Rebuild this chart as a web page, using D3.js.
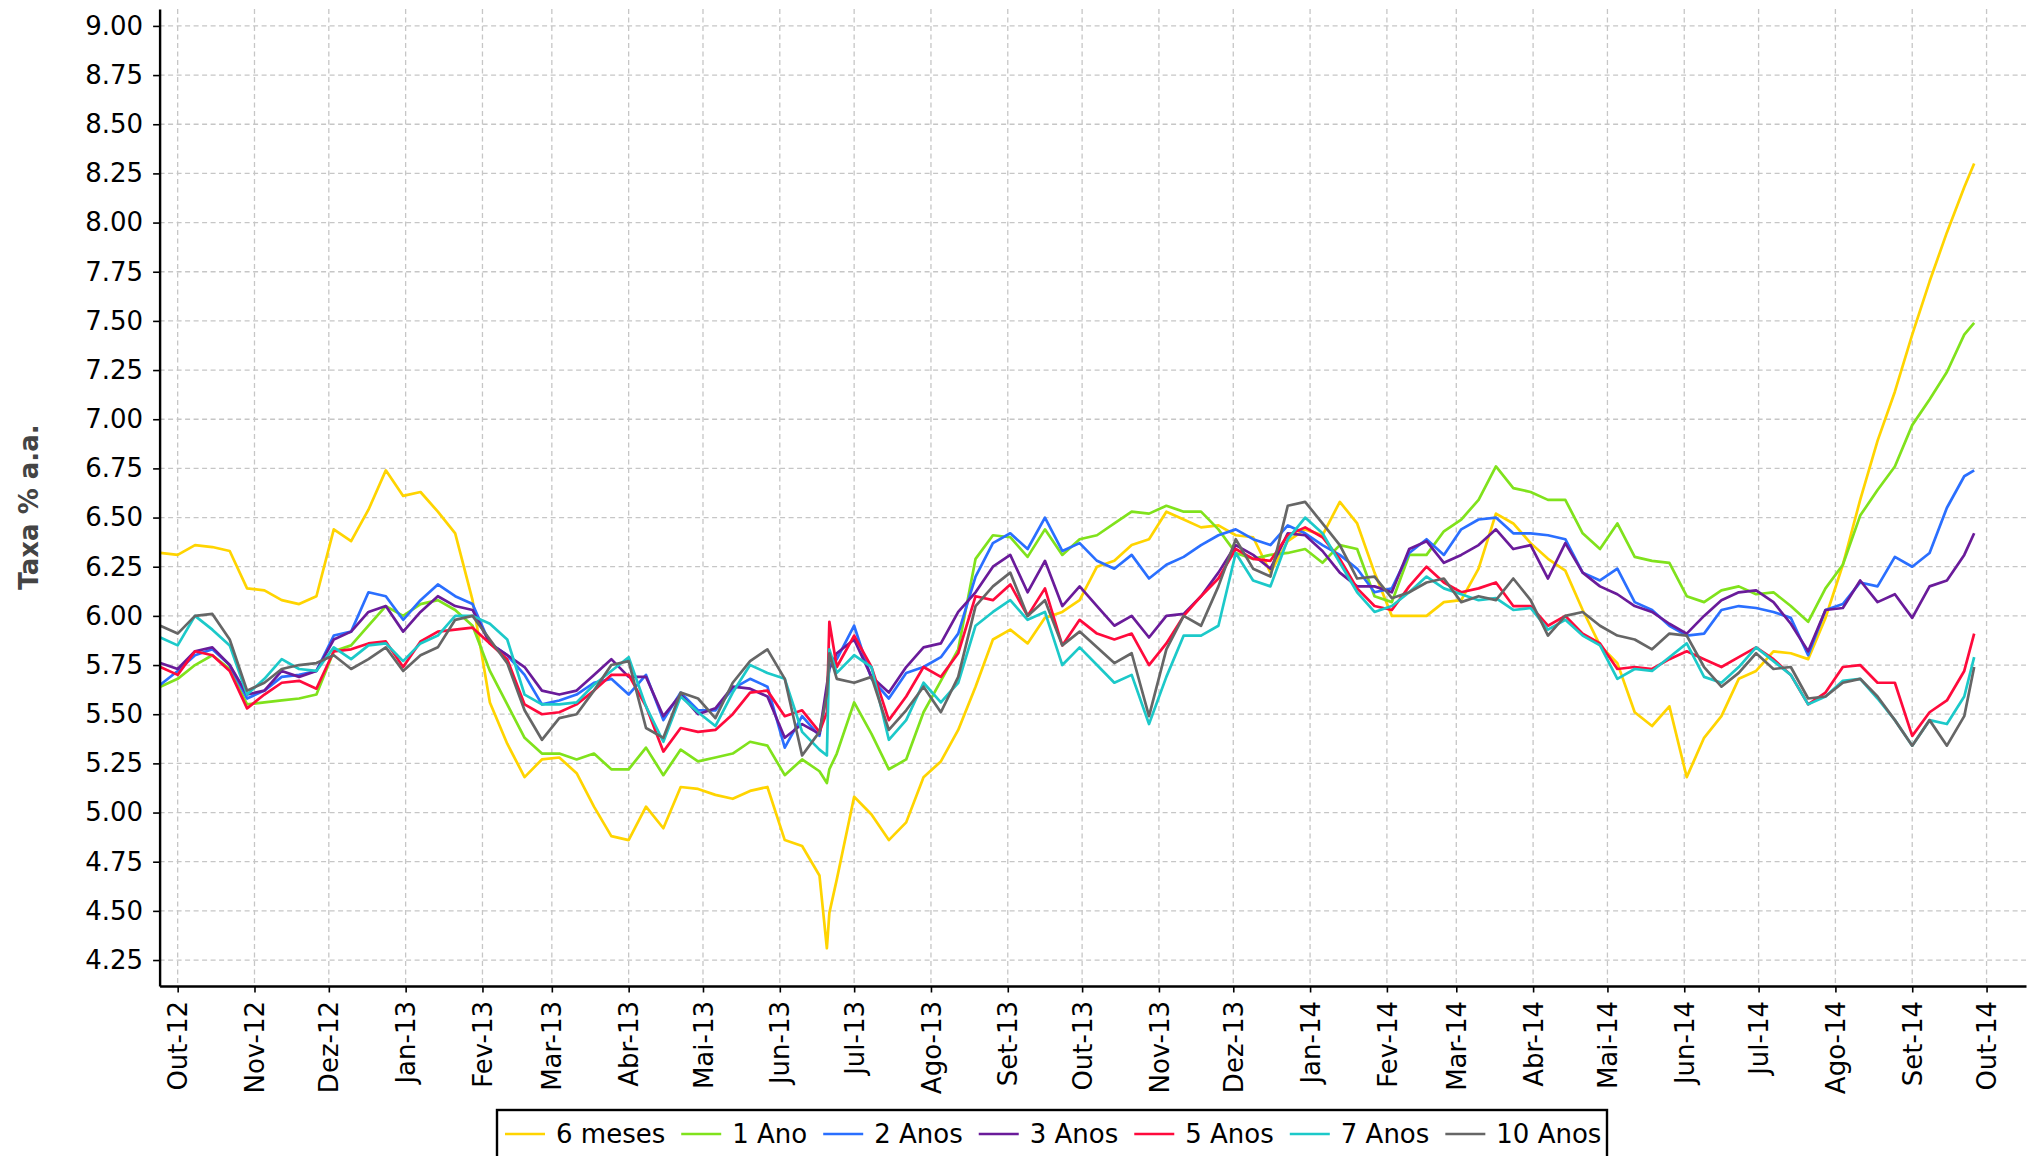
<!DOCTYPE html>
<html>
<head>
<meta charset="utf-8">
<script src="https://cdn.jsdelivr.net/npm/d3@7"></script>
<style>
body { margin: 0; background: #fff; }
svg { display: block; font-family: "DejaVu Sans", sans-serif; }
</style>
</head>
<body>
<script>
// weekly readings (plus two extra days around the June 2013 spike)
let dates = [
  "2012-09-24","2012-10-01","2012-10-08","2012-10-15","2012-10-22","2012-10-29","2012-11-05","2012-11-12","2012-11-19","2012-11-26",
  "2012-12-03","2012-12-10","2012-12-17","2012-12-24","2012-12-31","2013-01-07","2013-01-14","2013-01-21","2013-01-28","2013-02-04",
  "2013-02-11","2013-02-18","2013-02-25","2013-03-04","2013-03-11","2013-03-18","2013-03-25","2013-04-01","2013-04-08","2013-04-15",
  "2013-04-22","2013-04-29","2013-05-06","2013-05-13","2013-05-20","2013-05-27","2013-06-03","2013-06-10","2013-06-17","2013-06-20",
  "2013-06-21","2013-06-24","2013-07-01","2013-07-08","2013-07-15","2013-07-22","2013-07-29","2013-08-05","2013-08-12","2013-08-19",
  "2013-08-26","2013-09-02","2013-09-09","2013-09-16","2013-09-23","2013-09-30","2013-10-07","2013-10-14","2013-10-21","2013-10-28",
  "2013-11-04","2013-11-11","2013-11-18","2013-11-25","2013-12-02","2013-12-09","2013-12-16","2013-12-23","2013-12-30","2014-01-06",
  "2014-01-13","2014-01-20","2014-01-27","2014-02-03","2014-02-10","2014-02-17","2014-02-24","2014-03-03","2014-03-10","2014-03-17",
  "2014-03-24","2014-03-31","2014-04-07","2014-04-14","2014-04-21","2014-04-28","2014-05-05","2014-05-12","2014-05-19","2014-05-26",
  "2014-06-02","2014-06-09","2014-06-16","2014-06-23","2014-06-30","2014-07-07","2014-07-14","2014-07-21","2014-07-28","2014-08-04",
  "2014-08-11","2014-08-18","2014-08-25","2014-09-01","2014-09-08","2014-09-15","2014-09-22","2014-09-26"
];

let taxa6m = [
  6.32,6.31,6.36,6.35,6.33,6.14,6.13,6.08,6.06,6.10,6.44,6.38,6.54,6.74,6.61,6.63,6.53,6.42,6.08,5.56,
  5.35,5.18,5.27,5.28,5.20,5.03,4.88,4.86,5.03,4.92,5.13,5.12,5.09,5.07,5.11,5.13,4.86,4.83,4.68,4.31,
  4.49,4.66,5.08,4.99,4.86,4.95,5.18,5.26,5.42,5.64,5.88,5.93,5.86,5.99,6.02,6.08,6.25,6.28,6.36,6.39,
  6.53,6.49,6.45,6.46,6.41,6.40,6.22,6.38,6.44,6.41,6.58,6.47,6.22,6.00,6.00,6.00,6.07,6.08,6.24,6.52,
  6.47,6.37,6.29,6.23,6.03,5.85,5.76,5.51,5.44,5.54,5.18,5.38,5.49,5.68,5.72,5.82,5.81,5.78,5.99,6.26,
  6.59,6.89,7.14,7.43,7.70,7.95,8.18,8.30
];
let taxa1a = [
  5.64,5.68,5.75,5.80,5.73,5.55,5.56,5.57,5.58,5.60,5.82,5.85,5.95,6.05,6.00,6.06,6.08,6.03,5.95,5.72,
  5.55,5.38,5.30,5.30,5.27,5.30,5.22,5.22,5.33,5.19,5.32,5.26,5.28,5.30,5.36,5.34,5.19,5.27,5.21,5.15,
  5.22,5.30,5.56,5.40,5.22,5.27,5.51,5.67,5.83,6.29,6.41,6.40,6.30,6.44,6.31,6.39,6.41,6.47,6.53,6.52,
  6.56,6.53,6.53,6.44,6.32,6.29,6.31,6.32,6.34,6.27,6.36,6.34,6.10,6.07,6.31,6.31,6.43,6.49,6.59,6.76,
  6.65,6.63,6.59,6.59,6.42,6.34,6.47,6.30,6.28,6.27,6.10,6.07,6.13,6.15,6.11,6.12,6.05,5.97,6.14,6.26,
  6.51,6.64,6.76,6.97,7.10,7.24,7.43,7.49
];
let taxa2a = [
  5.65,5.72,5.80,5.83,5.75,5.58,5.62,5.69,5.70,5.72,5.90,5.92,6.12,6.10,5.98,6.08,6.16,6.10,6.06,5.86,
  5.80,5.70,5.55,5.57,5.60,5.66,5.68,5.60,5.70,5.47,5.61,5.52,5.52,5.63,5.68,5.64,5.33,5.49,5.39,5.61,
  5.75,5.78,5.95,5.68,5.58,5.71,5.74,5.79,5.91,6.20,6.37,6.42,6.34,6.50,6.33,6.37,6.28,6.24,6.31,6.19,
  6.26,6.30,6.36,6.41,6.44,6.39,6.36,6.46,6.42,6.36,6.31,6.24,6.12,6.14,6.32,6.39,6.31,6.44,6.49,6.50,
  6.42,6.42,6.41,6.39,6.22,6.18,6.24,6.07,6.03,5.95,5.90,5.91,6.03,6.05,6.04,6.02,5.99,5.80,6.03,6.06,
  6.17,6.15,6.30,6.25,6.32,6.55,6.71,6.74
];
let taxa3a = [
  5.76,5.73,5.82,5.84,5.75,5.60,5.62,5.72,5.69,5.72,5.88,5.92,6.02,6.05,5.92,6.02,6.10,6.05,6.03,5.86,
  5.80,5.74,5.62,5.60,5.62,5.70,5.78,5.69,5.69,5.49,5.60,5.50,5.53,5.64,5.63,5.59,5.38,5.45,5.40,5.65,
  5.73,5.81,5.88,5.69,5.61,5.74,5.84,5.86,6.02,6.12,6.25,6.31,6.12,6.28,6.05,6.15,6.05,5.95,6.00,5.89,
  6.00,6.01,6.10,6.22,6.36,6.31,6.24,6.42,6.41,6.33,6.22,6.15,6.15,6.12,6.34,6.38,6.27,6.31,6.36,6.44,
  6.34,6.36,6.19,6.37,6.22,6.15,6.11,6.05,6.02,5.96,5.91,6.00,6.08,6.12,6.13,6.07,5.96,5.82,6.03,6.04,
  6.18,6.07,6.11,5.99,6.15,6.18,6.31,6.42
];
let taxa5a = [
  5.74,5.70,5.82,5.80,5.72,5.53,5.60,5.66,5.67,5.63,5.82,5.83,5.86,5.87,5.74,5.87,5.92,5.93,5.94,5.86,
  5.78,5.55,5.50,5.51,5.55,5.62,5.70,5.70,5.54,5.31,5.43,5.41,5.42,5.50,5.61,5.62,5.49,5.52,5.41,5.51,
  5.97,5.74,5.90,5.74,5.47,5.59,5.74,5.69,5.81,6.10,6.08,6.16,6.00,6.14,5.85,5.98,5.91,5.88,5.91,5.75,
  5.86,6.00,6.10,6.19,6.34,6.29,6.28,6.41,6.45,6.40,6.29,6.14,6.05,6.03,6.15,6.25,6.17,6.12,6.14,6.17,
  6.05,6.05,5.95,6.00,5.91,5.86,5.73,5.74,5.73,5.78,5.82,5.78,5.74,5.79,5.84,5.78,5.70,5.55,5.61,5.74,
  5.75,5.66,5.66,5.39,5.51,5.57,5.72,5.91
];
let taxa7a = [
  5.89,5.85,6.00,5.93,5.85,5.60,5.68,5.78,5.73,5.72,5.84,5.78,5.85,5.86,5.77,5.86,5.90,6.00,6.00,5.96,
  5.88,5.60,5.55,5.55,5.56,5.65,5.72,5.79,5.54,5.36,5.59,5.51,5.44,5.61,5.75,5.71,5.68,5.41,5.32,5.29,
  5.83,5.71,5.80,5.74,5.37,5.47,5.66,5.56,5.66,5.95,6.02,6.08,5.98,6.02,5.75,5.84,5.75,5.66,5.70,5.45,
  5.69,5.90,5.90,5.95,6.32,6.18,6.15,6.39,6.50,6.42,6.27,6.12,6.02,6.05,6.12,6.20,6.14,6.11,6.08,6.09,
  6.03,6.04,5.93,5.98,5.90,5.85,5.68,5.73,5.72,5.79,5.86,5.69,5.66,5.74,5.84,5.77,5.70,5.55,5.59,5.67,
  5.68,5.58,5.47,5.34,5.47,5.45,5.59,5.79
];
let taxa10a = [
  5.95,5.91,6.00,6.01,5.88,5.62,5.66,5.73,5.75,5.76,5.80,5.73,5.78,5.84,5.72,5.80,5.84,5.98,6.00,5.88,
  5.76,5.52,5.37,5.48,5.50,5.62,5.75,5.77,5.43,5.38,5.61,5.58,5.48,5.66,5.77,5.83,5.68,5.29,5.41,5.60,
  5.81,5.68,5.66,5.69,5.42,5.52,5.64,5.51,5.69,6.05,6.15,6.22,6.00,6.08,5.85,5.92,5.84,5.76,5.81,5.49,
  5.83,6.00,5.95,6.15,6.39,6.24,6.20,6.56,6.58,6.47,6.36,6.19,6.20,6.09,6.12,6.17,6.19,6.07,6.10,6.08,
  6.19,6.08,5.90,6.00,6.02,5.95,5.90,5.88,5.83,5.91,5.90,5.74,5.64,5.71,5.81,5.73,5.74,5.58,5.59,5.66,
  5.68,5.59,5.47,5.34,5.47,5.34,5.49,5.74
];

let seriesNames = ["6 meses", "1 Ano", "2 Anos", "3 Anos", "5 Anos", "7 Anos", "10 Anos"];
let seriesValues = [taxa6m, taxa1a, taxa2a, taxa3a, taxa5a, taxa7a, taxa10a];
let seriesColors = ["#ffd400", "#80e21c", "#2a6fff", "#6a1b9a", "#ff0a3c", "#1cc9c9", "#666666"];

let yTicks = [4.25, 4.50, 4.75, 5.00, 5.25, 5.50, 5.75, 6.00, 6.25, 6.50, 6.75, 7.00, 7.25, 7.50, 7.75, 8.00, 8.25, 8.50, 8.75, 9.00];
let monthAbbr = ["Jan", "Fev", "Mar", "Abr", "Mai", "Jun", "Jul", "Ago", "Set", "Out", "Nov", "Dez"];

let width = 2034;
let height = 1156;
let plotLeft = 159.6, plotRight = 2026, plotTop = 9, plotBottom = 986;

let parseDate = d3.timeParse("%Y-%m-%d");
let dateObjs = dates.map(parseDate);

let xscale = d3.scaleTime()
  .domain([new Date(2012, 8, 23, 17), new Date(2014, 9, 16, 22)])
  .range([plotLeft, plotRight]);
let yscale = d3.scaleLinear().domain([4.118, 9.086]).range([plotBottom, plotTop]);

let monthTicks = d3.timeMonth.range(new Date(2012, 9, 1), new Date(2014, 9, 2));

let svg = d3.select("body").append("svg").attr("width", width).attr("height", height);

// grid
let grid = svg.append("g").attr("stroke", "#c6c6c6").attr("stroke-width", 1.3).attr("stroke-dasharray", "5,3.5");
grid.selectAll("line.h").data(yTicks).enter().append("line").attr("class", "h")
  .attr("x1", plotLeft).attr("x2", plotRight)
  .attr("y1", (d) => yscale(d)).attr("y2", (d) => yscale(d));
grid.selectAll("line.v").data(monthTicks).enter().append("line").attr("class", "v")
  .attr("y1", plotTop).attr("y2", plotBottom)
  .attr("x1", (d) => xscale(d)).attr("x2", (d) => xscale(d));

// series
let line = d3.line().x((d, i) => xscale(dateObjs[i])).y((d) => yscale(d));
svg.append("g").selectAll("path").data(seriesValues).enter().append("path")
  .attr("d", (d) => line(d))
  .attr("fill", "none")
  .attr("stroke", (d, i) => seriesColors[i])
  .attr("stroke-width", 2.7)
  .attr("stroke-linejoin", "round");

// axes
let yAxis = svg.append("g").attr("transform", "translate(" + plotLeft + ",0)")
  .call(d3.axisLeft(yscale).tickValues(yTicks).tickFormat(d3.format(".2f")).tickSizeInner(6.5).tickSizeOuter(0).tickPadding(10));
let xAxis = svg.append("g").attr("transform", "translate(0," + plotBottom + ")")
  .call(d3.axisBottom(xscale).tickValues(monthTicks)
    .tickFormat((d) => monthAbbr[d.getMonth()] + "-" + d3.timeFormat("%y")(d))
    .tickSizeInner(6.5).tickSizeOuter(0));

[yAxis, xAxis].forEach((ax) => {
  ax.select(".domain").attr("stroke", "#000").attr("stroke-width", 2.4);
  ax.selectAll(".tick line").attr("stroke", "#000").attr("stroke-width", 1.6);
  ax.selectAll("text").attr("font-size", 26).attr("fill", "#000").attr("font-family", "DejaVu Sans");
});
xAxis.selectAll(".tick text")
  .attr("transform", "rotate(-90)")
  .attr("text-anchor", "end")
  .attr("x", -15).attr("y", 0).attr("dy", "0.35em");

// y title
svg.append("text")
  .attr("transform", "translate(29,507) rotate(-90)")
  .attr("text-anchor", "middle")
  .attr("dy", "0.35em")
  .attr("font-size", 26).attr("font-weight", "bold").attr("fill", "#444")
  .text("Taxa % a.a.");

// legend
let legend = svg.append("g");
legend.append("rect").attr("x", 497).attr("y", 1110).attr("width", 1110).attr("height", 70)
  .attr("fill", "#fff").attr("stroke", "#000").attr("stroke-width", 2.4);
let lx = 505;
seriesNames.forEach((name, i) => {
  legend.append("line").attr("x1", lx).attr("x2", lx + 40).attr("y1", 1134).attr("y2", 1134)
    .attr("stroke", seriesColors[i]).attr("stroke-width", 2.7);
  let t = legend.append("text").attr("x", lx + 51).attr("y", 1134).attr("dy", "0.35em")
    .attr("font-size", 26).attr("fill", "#000").text(name);
  lx += 51 + t.node().getComputedTextLength() + 16;
});
</script>
</body>
</html>
